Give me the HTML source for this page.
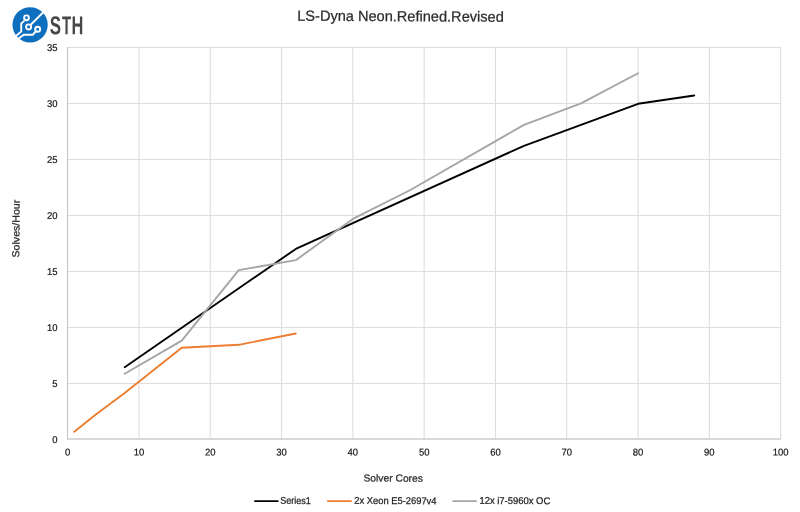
<!DOCTYPE html>
<html><head><meta charset="utf-8"><style>
html,body{margin:0;padding:0;background:#fff;}
svg{display:block;will-change:transform;}
text{font-family:"Liberation Sans",sans-serif;}
</style></head><body>
<svg width="800" height="512" viewBox="0 0 800 512">
<rect width="800" height="512" fill="#fff"/>
<g stroke="#dedede" stroke-width="1.1" fill="none">
<line x1="138.95" y1="47.00" x2="138.95" y2="439"/><line x1="210.25" y1="47.00" x2="210.25" y2="439"/><line x1="281.55" y1="47.00" x2="281.55" y2="439"/><line x1="352.85" y1="47.00" x2="352.85" y2="439"/><line x1="424.15" y1="47.00" x2="424.15" y2="439"/><line x1="495.45" y1="47.00" x2="495.45" y2="439"/><line x1="566.75" y1="47.00" x2="566.75" y2="439"/><line x1="638.05" y1="47.00" x2="638.05" y2="439"/><line x1="709.35" y1="47.00" x2="709.35" y2="439"/><line x1="780.65" y1="47.00" x2="780.65" y2="439"/><line x1="67.65" y1="383.50" x2="780.65" y2="383.50"/><line x1="67.65" y1="327.50" x2="780.65" y2="327.50"/><line x1="67.65" y1="271.50" x2="780.65" y2="271.50"/><line x1="67.65" y1="215.50" x2="780.65" y2="215.50"/><line x1="67.65" y1="159.50" x2="780.65" y2="159.50"/><line x1="67.65" y1="103.50" x2="780.65" y2="103.50"/><line x1="67.65" y1="47.50" x2="780.65" y2="47.50"/>
</g>
<line x1="67.5" y1="47.00" x2="67.5" y2="439.5" stroke="#c6c6c6" stroke-width="1.1"/>
<line x1="67" y1="439.05" x2="780.95" y2="439.05" stroke="#cccccc" stroke-width="1.4"/>
<g fill="none" stroke-linejoin="round" stroke-linecap="round" stroke-width="1.9" transform="translate(0,0.3)">
<polyline points="124.69,366.92 295.81,248.65 523.97,145.50 638.05,103.50 694.23,95.21" stroke="#000"/>
<polyline points="74.21,431.44 96.17,413.85 124.69,392.68 181.73,347.44 238.77,344.52 295.81,333.21" stroke="#ED7D31"/>
<polyline points="124.69,373.42 181.73,340.27 238.77,269.82 295.81,259.85 352.85,218.64 409.89,189.96 523.97,124.56 581.01,103.16 638.05,72.92" stroke="#A5A5A5"/>
</g>
<g font-size="9.8" fill="#141414" stroke="#141414" stroke-width="0.2">
<text x="67.65" y="455.60" text-anchor="middle" textLength="5.25" lengthAdjust="spacingAndGlyphs" transform="rotate(0.3 67.65 455.60)">0</text><text x="138.95" y="455.60" text-anchor="middle" textLength="10.50" lengthAdjust="spacingAndGlyphs" transform="rotate(0.3 138.95 455.60)">10</text><text x="210.25" y="455.60" text-anchor="middle" textLength="10.50" lengthAdjust="spacingAndGlyphs" transform="rotate(0.3 210.25 455.60)">20</text><text x="281.55" y="455.60" text-anchor="middle" textLength="10.50" lengthAdjust="spacingAndGlyphs" transform="rotate(0.3 281.55 455.60)">30</text><text x="352.85" y="455.60" text-anchor="middle" textLength="10.50" lengthAdjust="spacingAndGlyphs" transform="rotate(0.3 352.85 455.60)">40</text><text x="424.15" y="455.60" text-anchor="middle" textLength="10.50" lengthAdjust="spacingAndGlyphs" transform="rotate(0.3 424.15 455.60)">50</text><text x="495.45" y="455.60" text-anchor="middle" textLength="10.50" lengthAdjust="spacingAndGlyphs" transform="rotate(0.3 495.45 455.60)">60</text><text x="566.75" y="455.60" text-anchor="middle" textLength="10.50" lengthAdjust="spacingAndGlyphs" transform="rotate(0.3 566.75 455.60)">70</text><text x="638.05" y="455.60" text-anchor="middle" textLength="10.50" lengthAdjust="spacingAndGlyphs" transform="rotate(0.3 638.05 455.60)">80</text><text x="709.35" y="455.60" text-anchor="middle" textLength="10.50" lengthAdjust="spacingAndGlyphs" transform="rotate(0.3 709.35 455.60)">90</text><text x="780.65" y="455.60" text-anchor="middle" textLength="15.75" lengthAdjust="spacingAndGlyphs" transform="rotate(0.3 780.65 455.60)">100</text>
<text x="57.50" y="443.00" text-anchor="end" textLength="5.25" lengthAdjust="spacingAndGlyphs" transform="rotate(0.3 57.50 443.00)">0</text><text x="57.50" y="387.00" text-anchor="end" textLength="5.25" lengthAdjust="spacingAndGlyphs" transform="rotate(0.3 57.50 387.00)">5</text><text x="57.50" y="331.00" text-anchor="end" textLength="10.50" lengthAdjust="spacingAndGlyphs" transform="rotate(0.3 57.50 331.00)">10</text><text x="57.50" y="275.00" text-anchor="end" textLength="10.50" lengthAdjust="spacingAndGlyphs" transform="rotate(0.3 57.50 275.00)">15</text><text x="57.50" y="219.00" text-anchor="end" textLength="10.50" lengthAdjust="spacingAndGlyphs" transform="rotate(0.3 57.50 219.00)">20</text><text x="57.50" y="163.00" text-anchor="end" textLength="10.50" lengthAdjust="spacingAndGlyphs" transform="rotate(0.3 57.50 163.00)">25</text><text x="57.50" y="107.00" text-anchor="end" textLength="10.50" lengthAdjust="spacingAndGlyphs" transform="rotate(0.3 57.50 107.00)">30</text><text x="57.50" y="51.00" text-anchor="end" textLength="10.50" lengthAdjust="spacingAndGlyphs" transform="rotate(0.3 57.50 51.00)">35</text>
</g>
<g fill="#2b2b2b" stroke="#2b2b2b" stroke-width="0.25">
<text x="400.50" y="21.20" text-anchor="middle" textLength="206.50" lengthAdjust="spacingAndGlyphs" transform="rotate(0.3 400.50 21.20)" font-size="14.6">LS-Dyna Neon.Refined.Revised</text>
<text x="393.20" y="481.60" text-anchor="middle" textLength="59.40" lengthAdjust="spacingAndGlyphs" transform="rotate(0.3 393.20 481.60)" font-size="10.2">Solver Cores</text>
<text x="0" y="0" text-anchor="middle" font-size="10.2" textLength="57.8" lengthAdjust="spacingAndGlyphs" transform="translate(19.5,228.6) rotate(-89.7)">Solves/Hour</text>
</g>
<g stroke-width="1.9" stroke-linecap="round">
<line x1="255.0" y1="501.15" x2="277.7" y2="501.15" stroke="#000"/>
<line x1="327.9" y1="501.15" x2="351.0" y2="501.15" stroke="#ED7D31"/>
<line x1="453.2" y1="501.15" x2="476.1" y2="501.15" stroke="#A5A5A5"/>
</g>
<g font-size="9.8" fill="#1e1e1e" stroke="#1e1e1e" stroke-width="0.25">
<text x="280.20" y="503.80" textLength="30.60" lengthAdjust="spacingAndGlyphs" transform="rotate(0.3 280.20 503.80)">Series1</text>
<text x="354.30" y="503.80" textLength="82.20" lengthAdjust="spacingAndGlyphs" transform="rotate(0.3 354.30 503.80)">2x Xeon E5-2697v4</text>
<text x="479.40" y="503.80" textLength="70.80" lengthAdjust="spacingAndGlyphs" transform="rotate(0.3 479.40 503.80)">12x i7-5960x OC</text>
</g>
<g>
<circle cx="30.1" cy="24.85" r="17.65" fill="#0F6FBF"/>
<g stroke="#fff" stroke-width="1.85" fill="none" stroke-linecap="butt" stroke-linejoin="miter">
<polyline points="24.4,20.6 21.2,23.6 21.3,31.4 12.5,39.0"/>
<polyline points="15.8,40.4 23.8,34.75 32.7,34.75 36.2,31.0"/>
<line x1="30.5" y1="25.0" x2="47" y2="8.5"/>
</g>
<g stroke="#fff" stroke-width="1.9" fill="#0F6FBF">
<circle cx="26.5" cy="17.8" r="2.4"/>
<circle cx="28.6" cy="26.9" r="2.5"/>
<circle cx="37.7" cy="29.2" r="2.5"/>
</g>
<g font-size="26" font-weight="bold" fill="#474747" text-anchor="middle">
<text transform="translate(55.5,34.3) scale(0.65,1) rotate(0.3)">S</text>
<text transform="translate(66.5,34.3) scale(0.57,1) rotate(0.3)">T</text>
<text transform="translate(77.35,34.3) scale(0.63,1) rotate(0.3)">H</text>
</g>
</g>
</svg>
</body></html>
